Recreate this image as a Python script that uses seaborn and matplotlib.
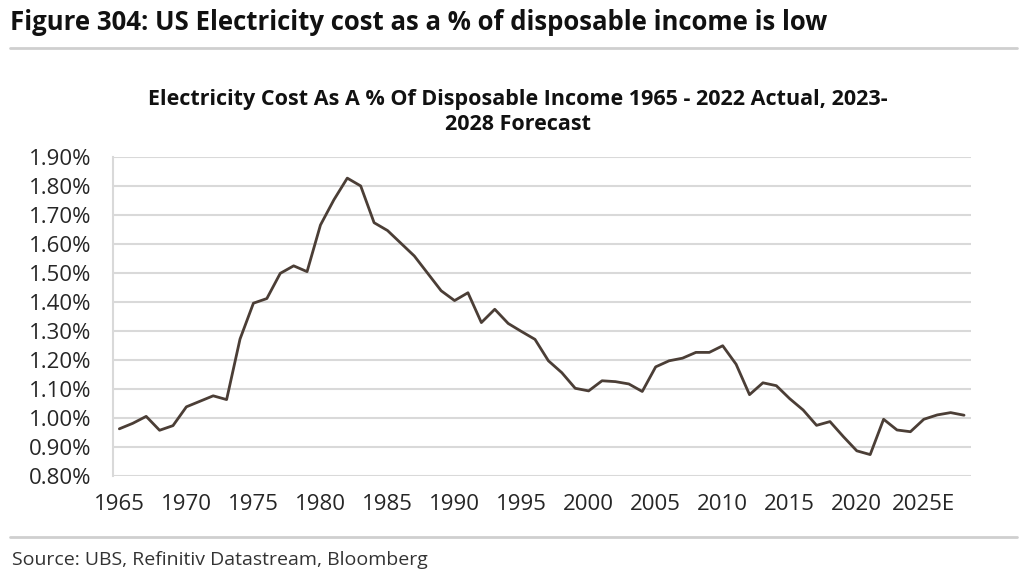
import numpy as np
import pandas as pd
import matplotlib
matplotlib.use("Agg")
import matplotlib.pyplot as plt
import seaborn as sns

# --- data ---
years = list(range(1965, 2029))
cost_pct = [
    0.962, 0.981, 1.005, 0.957, 0.973, 1.038, 1.057, 1.076, 1.063, 1.272,   # 1965-1974
    1.396, 1.412, 1.499, 1.525, 1.505, 1.666, 1.753, 1.828, 1.801, 1.674,   # 1975-1984
    1.647, 1.603, 1.559, 1.499, 1.439, 1.405, 1.432, 1.329, 1.375, 1.326,   # 1985-1994
    1.298, 1.271, 1.197, 1.156, 1.102, 1.093, 1.128, 1.125, 1.117, 1.091,   # 1995-2004
    1.176, 1.197, 1.206, 1.226, 1.226, 1.249, 1.185, 1.080, 1.121, 1.111,   # 2005-2014
    1.066, 1.027, 0.974, 0.987, 0.935, 0.886, 0.873, 0.995, 0.958, 0.952,   # 2015-2024
    0.995, 1.010, 1.018, 1.009,                                             # 2025-2028
]
tick_years = list(range(1965, 2026, 5))
tick_labels = ["1965", "1970", "1975", "1980", "1985", "1990", "1995",
               "2000", "2005", "2010", "2015", "2020", "2025E"]
y_ticks = [0.80, 0.90, 1.00, 1.10, 1.20, 1.30, 1.40, 1.50, 1.60, 1.70, 1.80, 1.90]

df = pd.DataFrame({"year": years, "cost": cost_pct})

sns.set_theme(style="white")
plt.rcParams["font.family"] = ["Open Sans", "DejaVu Sans"]

fig = plt.figure(figsize=(10.24, 5.81), dpi=100)
ax = fig.add_axes([0.110, 0.1812, 0.838, 0.5481])

sns.lineplot(data=df, x="year", y="cost", ax=ax, color="#4b3e36", linewidth=2.0)

ax.set_xlim(1964.5, 2028.5)
ax.set_ylim(0.80, 1.90)
ax.set_yticks(y_ticks)
ax.set_yticklabels([f"{v:.2f}%" for v in y_ticks])
ax.set_xticks(tick_years)
ax.set_xticklabels(tick_labels)
ax.tick_params(axis="both", labelsize=16, colors="#262626", length=0)
ax.tick_params(axis="y", pad=15)
ax.tick_params(axis="x", pad=13)
ax.grid(axis="y", color="#d9d9d9", linewidth=1.5)
ax.set_axisbelow(True)
ax.set_xlabel("")
ax.set_ylabel("")
for side in ["top", "right", "bottom"]:
    ax.spines[side].set_visible(False)
ax.spines["left"].set_color("#d9d9d9")
ax.spines["left"].set_linewidth(1.5)

# header, chart title, source
fig.text(0.010, 0.962, "Figure 304: US Electricity cost as a % of disposable income is low",
         fontsize=18.5, fontweight="bold", ha="left", va="center", color="#111111")
fig.add_artist(plt.Line2D([0.010, 0.993], [0.918, 0.918], color="#cfcfcf", linewidth=2))
fig.text(0.506, 0.807, "Electricity Cost As A % Of Disposable Income 1965 - 2022 Actual, 2023-\n2028 Forecast",
         fontsize=15.5, fontweight="bold", ha="center", va="center", linespacing=1.25, color="#111111")
fig.add_artist(plt.Line2D([0.010, 0.993], [0.076, 0.076], color="#cfcfcf", linewidth=2))
fig.text(0.012, 0.036, "Source: UBS, Refinitiv Datastream, Bloomberg",
         fontsize=14, ha="left", va="center", color="#333333")

fig.savefig("out.png", dpi=100)
